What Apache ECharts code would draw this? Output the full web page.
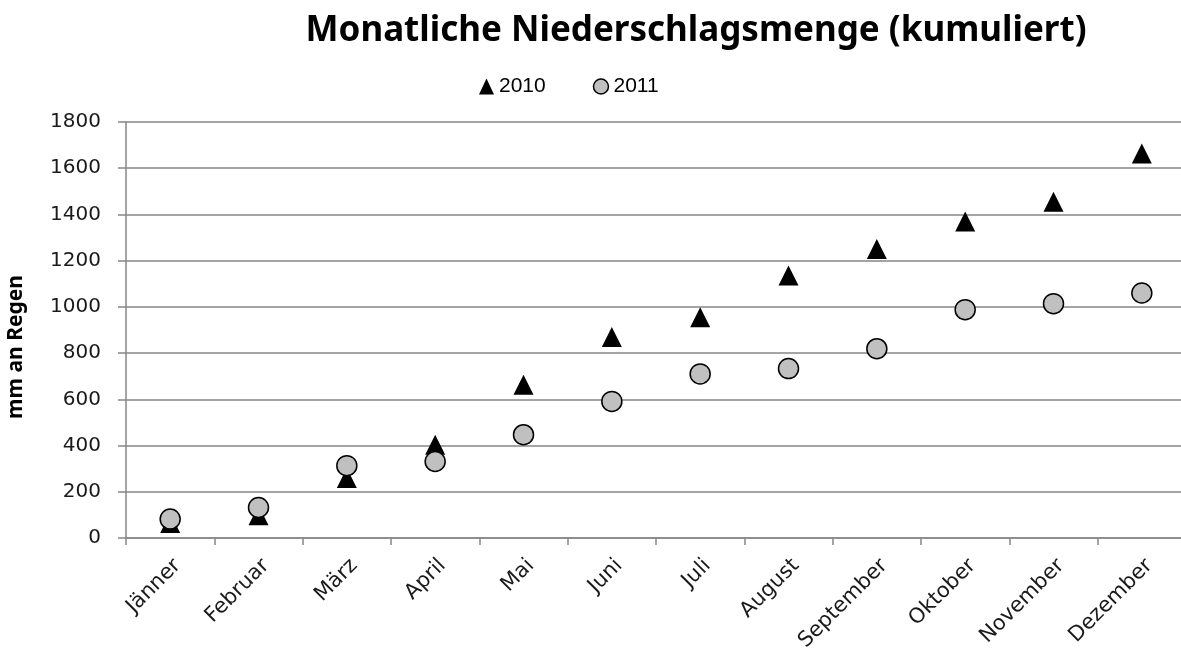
<!DOCTYPE html>
<html>
<head>
<meta charset="utf-8">
<script src="https://cdn.jsdelivr.net/npm/echarts@6/dist/echarts.min.js"></script>
<style>html,body{margin:0;padding:0;background:#fff}#c{width:1181px;height:650px}</style>
</head>
<body>
<div id="c"></div>
<script>
const months = ['Jänner','Februar','März','April','Mai','Juni','Juli','August','September','Oktober','November','Dezember'];
const values2010 = [65, 98, 260, 404, 663, 870, 955, 1136, 1250, 1370, 1455, 1664];
const values2011 = [82, 132, 313, 331, 447, 591, 710, 733, 819, 988, 1014, 1060];
const yTicks = {min: 0, max: 1800, interval: 200};

const chart = echarts.init(document.getElementById('c'), null, {renderer: 'canvas'});
chart.setOption({
  animation: false,
  backgroundColor: '#ffffff',
  title: {
    text: 'Monatliche Niederschlagsmenge (kumuliert)',
    left: 691, top: 9, textAlign: 'center',
    textStyle: {fontFamily: 'Noto Sans', fontSize: 35, fontWeight: 'bold', color: '#000'}
  },
  legend: {
    left: 474, top: 71,
    itemWidth: 15, itemHeight: 16, itemGap: 47,
    textStyle: {fontFamily: 'Liberation Sans', fontSize: 21, color: '#000'},
    data: [
      {name: '2010', icon: 'triangle', itemStyle: {color: '#000'}},
      {name: '2011', icon: 'circle', itemStyle: {color: '#c0c0c0', borderColor: '#000', borderWidth: 1.5}}
    ]
  },
  grid: {left: 126, right: -5, top: 122, bottom: 112, containLabel: false, outerBoundsMode: 'none'},
  xAxis: {
    type: 'category',
    data: months,
    boundaryGap: true,
    axisLine: {lineStyle: {color: '#868686', width: 1.5}},
    axisTick: {show: true, length: 7, lineStyle: {color: '#868686', width: 1.5}},
    axisLabel: {rotate: 45, margin: 17, interval: 0, verticalAlign: 'top', fontFamily: 'DejaVu Sans', fontSize: 21, color: '#1a1a1a'},
    splitLine: {show: false}
  },
  yAxis: {
    type: 'value',
    min: yTicks.min, max: yTicks.max, interval: yTicks.interval,
    name: 'mm an Regen',
    nameLocation: 'middle',
    nameGap: 99,
    nameRotate: 90,
    nameTextStyle: {fontFamily: 'Noto Sans', fontSize: 21, fontWeight: 'bold', color: '#000', padding: [0, 34, 0, 0]},
    axisLine: {show: true, lineStyle: {color: '#868686', width: 1.5}},
    axisTick: {show: true, length: 8, lineStyle: {color: '#868686', width: 1.5}},
    axisLabel: {margin: 25, fontFamily: 'DejaVu Sans', fontSize: 20, color: '#1a1a1a', formatter: function (v) { return String(v); }},
    splitLine: {lineStyle: {color: '#868686', width: 1.5}}
  },
  series: [
    {
      name: '2010', type: 'scatter', data: values2010,
      symbol: 'triangle', symbolSize: 20,
      itemStyle: {color: '#000', opacity: 1}
    },
    {
      name: '2011', type: 'scatter', data: values2011,
      symbol: 'circle', symbolSize: 20,
      itemStyle: {color: '#c0c0c0', borderColor: '#000', borderWidth: 1.5, opacity: 1}
    }
  ]
});
</script>
</body>
</html>
